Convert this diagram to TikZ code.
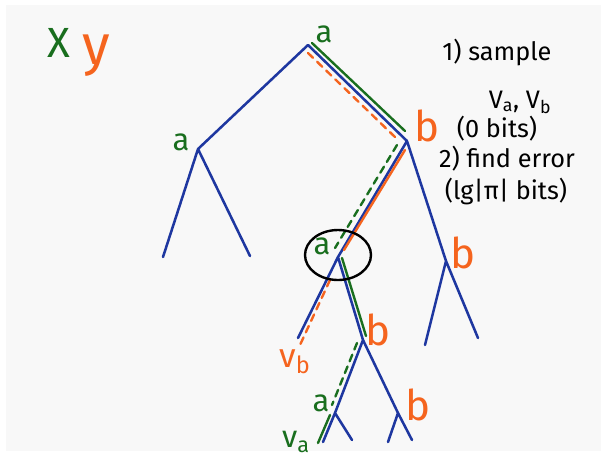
\documentclass[tikz,border=0pt]{standalone}
\usepackage{fontspec}
\setmainfont{Fira Sans}
\definecolor{treeblue}{RGB}{30,55,160}
\definecolor{xgreen}{RGB}{25,110,30}
\definecolor{yorange}{RGB}{245,100,30}
\definecolor{paper}{RGB}{248,248,248}
\begin{document}
\begin{tikzpicture}[x=0.025cm, y=-0.025cm, line cap=round, line join=round,
  edge/.style={treeblue, line width=1.8pt},
  xpath/.style={xgreen, line width=1.7pt},
  ypath/.style={yorange, line width=1.7pt},
  guess/.style={dash pattern=on 5pt off 4pt},
  alab/.style={font=\fontsize{22}{22}\selectfont, text=xgreen, inner sep=0pt},
  blab/.style={font=\fontsize{30}{30}\selectfont, text=yorange, inner sep=0pt},
  note/.style={font=\fontsize{18}{20}\selectfont, inner sep=0pt}]
\fill[paper] (6,5) rectangle (601,451);
\useasboundingbox (0,0) rectangle (607,456);
\coordinate (r) at (308,45);
\coordinate (l) at (198,149);
\coordinate (ll) at (163,257);
\coordinate (lr) at (250,256);
\coordinate (b1) at (407,141);
\coordinate (a2) at (338,257);
\coordinate (b2) at (446,261);
\coordinate (b2l) at (425,345);
\coordinate (b2r) at (478,338);
\coordinate (vb) at (298,338);
\coordinate (b3) at (363,340);
\coordinate (a4) at (335,413);
\coordinate (b4) at (398,413);
\coordinate (va) at (323,442);
\coordinate (a4r) at (352,440);
\coordinate (b4l) at (388,442);
\coordinate (b4r) at (412,440);
\draw[edge] (ll) -- (l) -- (lr) (l) -- (r) -- (b1) -- (a2) -- (vb) (a2) -- (b3) -- (a4) -- (va)
  (a4) -- (a4r) (b3) -- (b4) -- (b4l) (b4) -- (b4r) (b1) -- (b2) -- (b2l) (b2) -- (b2r);
\draw[xpath] ([shift={(4,-2)}]r) -- ([shift={(-2,-10)}]b1);
\draw[xpath, guess] ([shift={(-10,4)}]b1) -- ([shift={(-3,-9)}]a2);
\draw[xpath] ([shift={(4,1)}]a2) -- ([shift={(3,-4)}]b3);
\draw[xpath, guess] ([shift={(-6,3)}]b3) -- ([shift={(-3,-8)}]a4);
\draw[xpath] ([shift={(-5,2)}]a4) -- ([shift={(-5,1)}]va);
\draw[ypath, guess] ([shift={(0,8)}]r) -- ([shift={(-12,-4)}]b1);
\draw[ypath] ([shift={(-2,9)}]b1) -- ([shift={(6,-7)}]a2);
\draw[ypath, guess] ([shift={(-8,23)}]a2) -- ([shift={(2,7)}]vb);
\draw[line width=1.7pt] (338,255) ellipse [x radius=33, y radius=25];
\node[alab, font=\fontsize{30}{30}\selectfont] (xname) at (59,43) {X};
\node[blab, font=\fontsize{40}{40}\selectfont] (yname) at (96,56) {y};
\node[alab] (ra) at (324,34) {a};
\node[alab] (la) at (181,142) {a};
\node[alab] (a2l) at (322,246) {a};
\node[alab] (a4l) at (321,403) {a};
\node[blab] (b1l) at (427,126) {b};
\node[blab] (b2n) at (463,253) {b};
\node[blab] (b3l) at (378,330) {b};
\node[blab] (b4n) at (418,405) {b};
\node[blab, font=\fontsize{24}{24}\selectfont] (vbl) at (295,362) {v\textsubscript{b}};
\node[alab] (val) at (296,442) {v\textsubscript{a}};
\node[note] (s1) at (497,52) {1) sample};
\node[note] (s2) at (520,102) {V\textsubscript{a}, V\textsubscript{b}};
\node[note] (s3) at (497,129) {(0 bits)};
\node[note] (s4) at (507,159) {2) find error};
\node[note] (s5) at (506,191) {(lg|π| bits)};
\end{tikzpicture}
\end{document}
